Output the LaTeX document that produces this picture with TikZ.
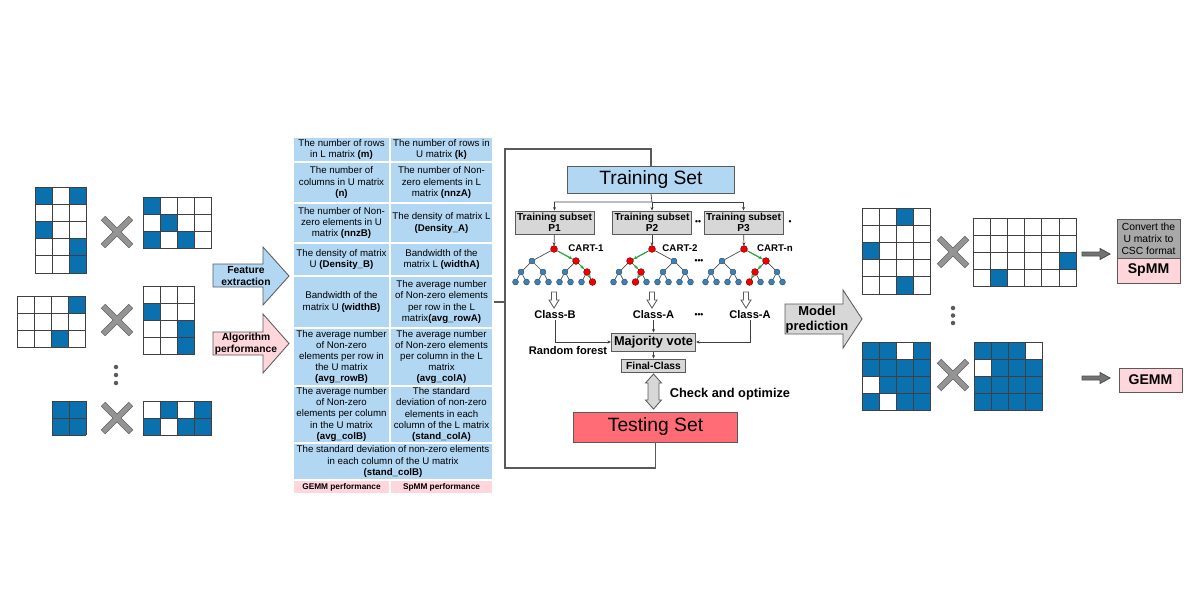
\documentclass[tikz,border=0pt]{standalone}
\usepackage{fontspec}
\setmainfont{Liberation Sans}
\usepackage{tikz}
\usetikzlibrary{arrows.meta}

\definecolor{cellblue}{RGB}{10,112,174}
\definecolor{tabblue}{RGB}{178,215,243}
\definecolor{tabpink}{RGB}{255,214,220}
\definecolor{testred}{RGB}{255,108,118}
\definecolor{boxgray}{RGB}{215,215,215}
\definecolor{convgray}{RGB}{168,168,168}
\definecolor{linegray}{RGB}{90,90,90}
\definecolor{nodeblue}{RGB}{62,128,180}
\definecolor{treered}{RGB}{240,0,0}
\definecolor{pathgreen}{RGB}{30,180,60}

\newcommand{\cellsz}{17.2}

% matrix: corner x, corner y, columns, rows, blue cells col/row
\newcommand{\sparsemat}[5]{%
  \begin{scope}[shift={(#1,#2)}]
    \foreach \mc/\mr in {#5}
      \fill[cellblue] (\mc*\cellsz,\mr*\cellsz) rectangle ++(\cellsz,\cellsz);
    \foreach \mc in {0,...,#3}
      \draw[gridline] (\mc*\cellsz,0) -- (\mc*\cellsz,#4*\cellsz);
    \foreach \mr in {0,...,#4}
      \draw[gridline] (0,\mr*\cellsz) -- (#3*\cellsz,\mr*\cellsz);
  \end{scope}}

% the multiplication cross
\newcommand{\timesmark}[2]{%
  \begin{scope}[shift={(#1,#2)}]
    \draw[crossedge] (-14,-14) -- (14,14);
    \draw[crossedge] (-14,14) -- (14,-14);
    \draw[crossfill] (-14,-14) -- (14,14);
    \draw[crossfill] (-14,14) -- (14,-14);
  \end{scope}}

\newcommand{\vdotsmark}[3]{%
  \foreach \dy in {-#3,0,#3}
    \fill[linegray] (#1,#2+\dy) circle[radius=1.6pt];}

% hollow arrow under a tree
\newcommand{\hollowdown}[1]{%
  \begin{scope}[shift={(#1,292)}]
    \draw[hollowarrow] (-2.5,0) -- (2.5,0) -- (2.5,8) -- (5,8) -- (0,16) -- (-5,8) -- (-2.5,8) -- cycle;
  \end{scope}}

% one CART: name, root x, red nodes
\newcommand{\cart}[3]{%
  \foreach \k/\dx/\dy in {1/0/0, 2/-22/12, 3/22/12, 4/-33/23, 5/-11/23, 6/11/23, 7/33/23,
      8/-38.5/33, 9/-27.5/33, 10/-16.5/33, 11/-5.5/33, 12/5.5/33, 13/16.5/33, 14/27.5/33, 15/38.5/33}
    \node[treenode] (#1-\k) at (#2+\dx,249+\dy) {};
  \foreach \k in {1,...,7} {
    \pgfmathtruncatemacro{\kl}{2*\k}
    \pgfmathtruncatemacro{\kr}{2*\k+1}
    \draw[treeedge] (#1-\k) -- (#1-\kl);
    \draw[treeedge] (#1-\k) -- (#1-\kr);
  }
  \foreach \k in {#3}
    \fill[treered, draw=treered!60!black, line width=0.3pt] (#1-\k) circle[radius=2.4pt];}

\tikzset{
  gridline/.style={draw=black!75, line width=0.6pt},
  crossedge/.style={draw=black!62, line width=4.4pt},
  crossfill/.style={draw=black!42, line width=3.4pt, shorten <=0.5pt, shorten >=0.5pt},
  tabcell/.style={fill=tabblue, draw=white, line width=0.8pt, align=center, inner sep=0pt,
    font=\fontsize{6.9}{7.9}\selectfont},
  perfcell/.style={tabcell, fill=tabpink, font=\fontsize{5.9}{7}\selectfont\bfseries},
  blockarrow/.style={draw=linegray, line width=0.6pt},
  hollowarrow/.style={fill=white, draw=linegray, line width=0.6pt},
  arrowtext/.style={align=center, inner sep=0pt, font=\fontsize{7.3}{8.5}\selectfont\bfseries},
  setbox/.style={draw=linegray, line width=0.7pt, font=\fontsize{13.7}{16}\selectfont},
  subbox/.style={fill=boxgray, draw=linegray, line width=0.7pt, align=center, inner sep=0pt,
    minimum width=1.975cm, minimum height=0.575cm, font=\fontsize{7.2}{8.2}\selectfont\bfseries},
  treenode/.style={circle, fill=nodeblue, draw=nodeblue!55!black, line width=0.3pt,
    inner sep=0pt, minimum size=4.2pt},
  treeedge/.style={draw=black!70, line width=0.5pt},
  greenpath/.style={draw=pathgreen, line width=0.8pt, -{Stealth[length=2.4pt,width=2.4pt]},
    shorten <=2pt, shorten >=0.8pt},
  flow/.style={draw=black!75, line width=0.5pt, -{Stealth[length=2.5pt,width=2.2pt]}},
  busline/.style={draw=linegray, line width=0.8pt},
  cartlabel/.style={inner sep=0pt, font=\fontsize{6.9}{8}\selectfont\bfseries},
  classlabel/.style={inner sep=0.5pt, font=\fontsize{7.9}{9}\selectfont\bfseries},
  dotstext/.style={inner sep=0pt, font=\fontsize{6}{7}\selectfont\bfseries},
  graybox/.style={fill=boxgray, draw=linegray, line width=0.7pt, inner sep=0pt},
  kernelbox/.style={fill=tabpink, draw=linegray, line width=0.7pt, inner sep=0pt,
    minimum width=1.575cm, font=\fontsize{10}{12}\selectfont\bfseries}
}

\begin{document}
\begin{tikzpicture}[x=0.025cm, y=-0.025cm]
  \useasboundingbox (0,0) rectangle (1200,600);

  % input matrix pairs
  \sparsemat{35}{187}{3}{5}{0/0, 2/0, 0/2, 2/3, 2/4}
  \timesmark{117}{232}
  \sparsemat{143}{197}{4}{3}{0/0, 1/1, 0/2, 2/2}

  \sparsemat{17}{296}{4}{3}{3/0, 2/2}
  \timesmark{117}{320}
  \sparsemat{143}{286}{3}{4}{0/1, 2/2, 2/3}

  \vdotsmark{116}{375}{8}

  \sparsemat{52}{401}{2}{2}{0/0, 1/0, 0/1, 1/1}
  \timesmark{117}{418}
  \sparsemat{143}{401}{4}{2}{1/0, 3/0, 0/1, 2/1, 3/1}

  % feature / performance arrows
  \draw[blockarrow, fill=tabblue] (213,264) -- (263,264) -- (263,247) -- (289,276)
    -- (263,305) -- (263,287) -- (213,287) -- cycle;
  \node[arrowtext] (feat) at (246,276) {Feature\\extraction};
  \draw[blockarrow, fill=tabpink] (213,332) -- (263,332) -- (263,314) -- (289,343.5)
    -- (263,373) -- (263,355) -- (213,355) -- cycle;
  \node[arrowtext] (algo) at (246,343.5) {Algorithm\\performance};

  % feature table
  \node[tabcell, minimum width=2.425cm, minimum height=0.625cm] (mrows) at (341.5,149.5)
    {The number of rows\\in L matrix \textbf{(m)}};
  \node[tabcell, minimum width=2.575cm, minimum height=0.625cm] (krows) at (441.5,149.5)
    {The number of rows in\\U matrix \textbf{(k)}};
  \node[tabcell, minimum width=2.425cm, minimum height=1.025cm] (ncols) at (341.5,182.5)
    {The number of\\columns in U matrix\\\textbf{(n)}};
  \node[tabcell, minimum width=2.575cm, minimum height=1.025cm] (nnzA) at (441.5,182.5)
    {The number of Non-\\zero elements in L\\matrix \textbf{(nnzA)}};
  \node[tabcell, minimum width=2.425cm, minimum height=1.0cm] (nnzB) at (341.5,223)
    {The number of Non-\\zero elements in U\\matrix \textbf{(nnzB)}};
  \node[tabcell, minimum width=2.575cm, minimum height=1.0cm] (densA) at (441.5,223)
    {The density of matrix L\\\textbf{(Density\_A)}};
  \node[tabcell, minimum width=2.425cm, minimum height=0.825cm] (densB) at (341.5,259.5)
    {The density of matrix\\U \textbf{(Density\_B)}};
  \node[tabcell, minimum width=2.575cm, minimum height=0.825cm] (widthA) at (441.5,259.5)
    {Bandwidth of the\\matrix L \textbf{(widthA)}};
  \node[tabcell, minimum width=2.425cm, minimum height=1.3cm] (widthB) at (341.5,302)
    {Bandwidth of the\\matrix U \textbf{(widthB)}};
  \node[tabcell, minimum width=2.575cm, minimum height=1.3cm] (rowA) at (441.5,302)
    {The average number\\of Non-zero elements\\per row in the L\\matrix\textbf{(avg\_rowA)}};
  \node[tabcell, minimum width=2.425cm, minimum height=1.45cm] (rowB) at (341.5,357)
    {The average number\\of Non-zero\\elements per row in\\the U matrix\\\textbf{(avg\_rowB)}};
  \node[tabcell, minimum width=2.575cm, minimum height=1.45cm] (colA) at (441.5,357)
    {The average number\\of Non-zero elements\\per column in the L\\matrix\\\textbf{(avg\_colA)}};
  \node[tabcell, minimum width=2.425cm, minimum height=1.425cm] (colB) at (341.5,414.5)
    {The average number\\of Non-zero\\elements per column\\in the U matrix\\\textbf{(avg\_colB)}};
  \node[tabcell, minimum width=2.575cm, minimum height=1.425cm] (stdA) at (441.5,414.5)
    {The standard\\deviation of non-zero\\elements in each\\column of the L matrix\\\textbf{(stand\_colA)}};
  \node[tabcell, minimum width=5cm, minimum height=0.925cm] (stdB) at (393,461.5)
    {The standard deviation of non-zero elements\\in each column of the U matrix\\\textbf{(stand\_colB)}};
  \node[perfcell, minimum width=2.425cm, minimum height=0.35cm] (gemmperf) at (341.5,487)
    {GEMM performance};
  \node[perfcell, minimum width=2.575cm, minimum height=0.35cm] (spmmperf) at (441.5,487)
    {SpMM performance};

  % random forest
  \node[setbox, fill=tabblue, minimum width=4.15cm, minimum height=0.65cm] (train) at (651,180)
    {Training Set};
  \node[setbox, fill=testred, minimum width=4.075cm, minimum height=0.75cm] (test) at (655.5,427)
    {Testing Set};

  \coordinate (bustop) at (505,149);
  \coordinate (busbot) at (505,468);
  \draw[busline] (train.north) |- (bustop) -- (busbot) -| (test.south);
  \draw[busline] (rowA.east) -- (rowA.east -| bustop);

  \node[subbox] (sub1) at (554.5,222.5) {Training subset\\P1};
  \node[subbox] (sub2) at (652,222.5) {Training subset\\P2};
  \node[subbox] (sub3) at (743.5,222.5) {Training subset\\P3};
  \node[dotstext] (subdotsA) at (698,222) {\textbullet\textbullet};
  \node[dotstext] (subdotsB) at (790,222) {\textbullet};

  \coordinate (split) at (652,202);
  \draw[flow] (train.south) -- (split) -| (sub1);
  \draw[flow] (split) -| (sub3);
  \draw[flow] (split) -- (sub2);

  \cart{c1}{554}{1,3,7,15}
  \cart{c2}{652}{1,2,5,10}
  \cart{c3}{744}{1,3,6,12}

  \draw[flow] (sub1) -- (c1-1);
  \draw[flow] (sub2) -- (c2-1);
  \draw[flow] (sub3) -- (c3-1);

  \draw[greenpath, xshift=1.2pt, yshift=2.3pt] (c1-1) -- (c1-3);
  \draw[greenpath, xshift=2pt, yshift=2pt] (c1-3) -- (c1-7);
  \draw[greenpath, xshift=2.8pt, yshift=1.5pt] (c1-7) -- (c1-15);
  \draw[greenpath, xshift=-1.2pt, yshift=2.3pt] (c2-1) -- (c2-2);
  \draw[greenpath, xshift=2pt, yshift=2pt] (c2-2) -- (c2-5);
  \draw[greenpath, xshift=-2.8pt, yshift=1.5pt] (c2-5) -- (c2-10);
  \draw[greenpath, xshift=1.2pt, yshift=2.3pt] (c3-1) -- (c3-3);
  \draw[greenpath, xshift=-2pt, yshift=2pt] (c3-3) -- (c3-6);
  \draw[greenpath, xshift=-2.8pt, yshift=1.5pt] (c3-6) -- (c3-12);

  \node[cartlabel] (cart1) at (586,248) {CART-1};
  \node[cartlabel] (cart2) at (680,248) {CART-2};
  \node[cartlabel] (cart3) at (775,248) {CART-n};
  \node[dotstext] (treedots) at (699,261) {\textbullet\textbullet\textbullet};

  \hollowdown{554}
  \hollowdown{652}
  \hollowdown{746}

  \node[classlabel] (classB) at (555,315) {Class-B};
  \node[classlabel] (classA) at (653.5,315) {Class-A};
  \node[classlabel] (classC) at (750,315) {Class-A};
  \node[dotstext] (classdots) at (699,315) {\textbullet\textbullet\textbullet};

  \node[graybox, minimum width=2.1cm, minimum height=0.45cm,
    font=\fontsize{9.1}{10}\selectfont\bfseries] (vote) at (653.5,342) {Majority vote};
  \node[graybox, minimum width=1.6cm, minimum height=0.325cm,
    font=\fontsize{7.3}{8}\selectfont\bfseries] (final) at (653.5,365.5) {Final-Class};
  \draw[flow] (classB) |- (vote);
  \draw[flow] (classA) -- (vote);
  \draw[flow] (classC) |- (vote);
  \draw[flow] (vote) -- (final);
  \node[classlabel] (forest) at (568,351) {Random forest};

  \draw[blockarrow, fill=boxgray] (645.5,383) -- (653.5,374) -- (661.5,383) -- (659,383)
    -- (659,400) -- (661.5,400) -- (653.5,409) -- (645.5,400) -- (648,400) -- (648,383) -- cycle;
  \node[inner sep=0pt, font=\fontsize{9.1}{10}\selectfont\bfseries] (check) at (730,394)
    {Check and optimize};

  % prediction
  \draw[blockarrow, fill=boxgray] (785,304) -- (843,304) -- (843,290) -- (862,319)
    -- (843,348) -- (843,334) -- (785,334) -- cycle;
  \node[align=center, inner sep=0pt, font=\fontsize{9.2}{10.6}\selectfont\bfseries] (predict)
    at (817,319.5) {Model\\prediction};

  \sparsemat{862}{208}{4}{5}{2/0, 0/2, 2/4}
  \timesmark{953}{252}
  \sparsemat{973}{218}{6}{4}{5/2, 1/3}

  \vdotsmark{953}{315.5}{7.5}

  \sparsemat{862}{342}{4}{4}{0/0, 1/0, 3/0, 0/1, 1/1, 2/1, 3/1, 1/2, 2/2, 3/2, 0/3, 2/3, 3/3}
  \timesmark{953}{375}
  \sparsemat{974}{342}{4}{4}{0/0, 1/0, 2/0, 1/1, 2/1, 3/1, 0/2, 1/2, 2/2, 3/2, 0/3, 1/3, 2/3, 3/3}

  \draw[line width=0.6pt, draw=black!70, fill=black!55] (1082,252) -- (1100,252) -- (1100,248.5)
    -- (1110,254) -- (1100,259.5) -- (1100,256) -- (1082,256) -- cycle;
  \draw[line width=0.6pt, draw=black!70, fill=black!55] (1082,376) -- (1100,376) -- (1100,372.5)
    -- (1110,378) -- (1100,383.5) -- (1100,380) -- (1082,380) -- cycle;

  \node[graybox, fill=convgray, minimum width=1.575cm, minimum height=0.975cm, align=center,
    font=\fontsize{7.35}{8.6}\selectfont] (convert) at (1148.5,238.5)
    {Convert the\\U matrix to\\CSC format};
  \node[kernelbox, minimum height=0.625cm] (spmm) at (1148.5,270.5) {SpMM};
  \node[kernelbox, minimum height=0.6cm] (gemm) at (1150.5,380) {GEMM};
\end{tikzpicture}
\end{document}
